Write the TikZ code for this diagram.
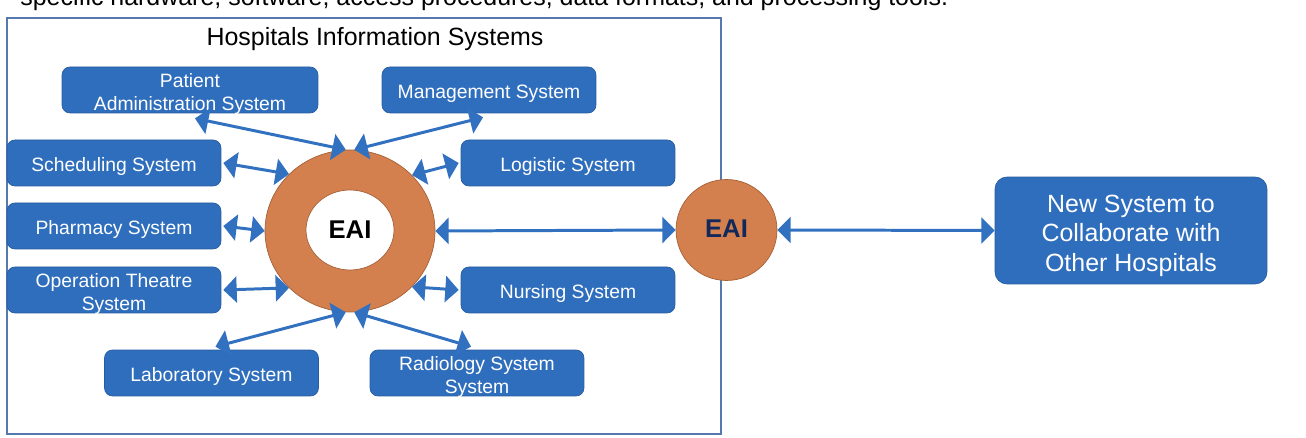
\documentclass[tikz,border=0pt]{standalone}
\usepackage{fontspec}
\setmainfont{Liberation Sans}
\usetikzlibrary{arrows,shapes.geometric}
\definecolor{boxblue}{RGB}{47,110,188}
\definecolor{boxedge}{RGB}{40,92,160}
\definecolor{linkblue}{RGB}{50,113,192}
\definecolor{eaiorange}{RGB}{212,128,78}
\definecolor{eaiedge}{RGB}{165,95,55}
\definecolor{frameblue}{RGB}{85,120,175}
\definecolor{eainavy}{RGB}{16,40,90}
\newcommand{\boxstrut}{\rule{0pt}{1.12em}}
\newcommand{\linestrut}{\rule{0pt}{0.92em}}

\begin{document}
\begin{tikzpicture}[x=0.02cm, y=-0.02cm,
		sysbox/.style={rectangle,draw=boxedge,fill=boxblue,rounded corners=0.16cm,minimum width=4.28cm,minimum height=0.92cm,text=white,align=center,inner sep=1pt,font=\fontsize{11}{13}\selectfont,execute at begin node={\boxstrut}},
		twoline/.style={text depth=0pt},
		link/.style={<->,>=triangle 90,draw=linkblue,line width=1.7pt}]
		\useasboundingbox (0,0) rectangle (1306,438);
		\clip (0,0) rectangle (1306,438);

		% text running on from the page above
		\node[anchor=base west,inner sep=0pt,font=\fontsize{14.2}{17}\selectfont] (pagetext) at (20,6) {specific hardware, software, access procedures, data formats, and processing tools.};

		% hospital frame
		\draw[frameblue,line width=0.9pt] (7,18) rectangle (721,434);
		\node[font=\fontsize{14.2}{17}\selectfont] (title) at (375,39) {Hospitals Information Systems};

		\node[sysbox,twoline,minimum width=5.12cm] (pat) at (190,90) {\linestrut Patient\\Administration System};
		\node[sysbox] (mgmt) at (489,90) {Management System};
		\node[sysbox] (sched) at (114,163) {Scheduling System};
		\node[sysbox] (logi) at (568,163) {Logistic System};
		\node[sysbox] (pharm) at (114,226) {Pharmacy System};
		\node[sysbox,twoline] (ot) at (114,290) {\linestrut Operation Theatre\\System};
		\node[sysbox] (nurs) at (568,290) {Nursing System};
		\node[sysbox] (lab) at (211.5,373) {Laboratory System};
		\node[sysbox,twoline] (rad) at (477,373) {\linestrut Radiology System\\System};

		% EAI hub with a hole in it
		\node[ellipse,draw=eaiedge,fill=eaiorange,minimum width=3.4cm,minimum height=3.24cm] (hub) at (350,231) {};
		\node[ellipse,draw=eaiedge,fill=white,minimum width=1.76cm,minimum height=1.6cm,text height=1em,font=\fontsize{14.6}{17}\selectfont\bfseries] (hubtext) at (350,230) {EAI};

		% outside link
		\node[circle,draw=eaiedge,fill=eaiorange,minimum size=2.02cm,text height=0.9em,text=eainavy,font=\fontsize{14.6}{17}\selectfont\bfseries] (relay) at (726.5,230) {EAI};
		\node[sysbox,minimum width=5.44cm,minimum height=2.14cm,rounded corners=0.24cm,font=\fontsize{14.2}{17}\selectfont] (newsys) at (1131,230.5) {\boxstrut New System to\\Collaborate with\\Other Hospitals};

		\draw[link] ([xshift=0.1cm,yshift=-0.1cm]pat.south) -- (hub.93);
		\draw[link] ([xshift=-0.12cm,yshift=-0.08cm]mgmt.south) -- (hub.87);
		\draw[link] ([xshift=0.04cm]sched.east) -- (hub.137);
		\draw[link] ([xshift=-0.04cm]logi.west) -- (hub.42);
		\draw[link] ([xshift=0.04cm]pharm.east) -- (hub.west);
		\draw[link] ([xshift=0.04cm]ot.east) -- (hub.-137);
		\draw[link] ([xshift=-0.04cm]nurs.west) -- (hub.-42);
		\draw[link] ([xshift=0.08cm,yshift=0.06cm]lab.north) -- (hub.-93);
		\draw[link] ([xshift=-0.12cm,yshift=0.06cm]rad.north) -- (hub.-87);
		\draw[link] (hub.east) -- (relay.west);
		\draw[link] (relay.east) -- (newsys.west);
\end{tikzpicture}
\end{document}
